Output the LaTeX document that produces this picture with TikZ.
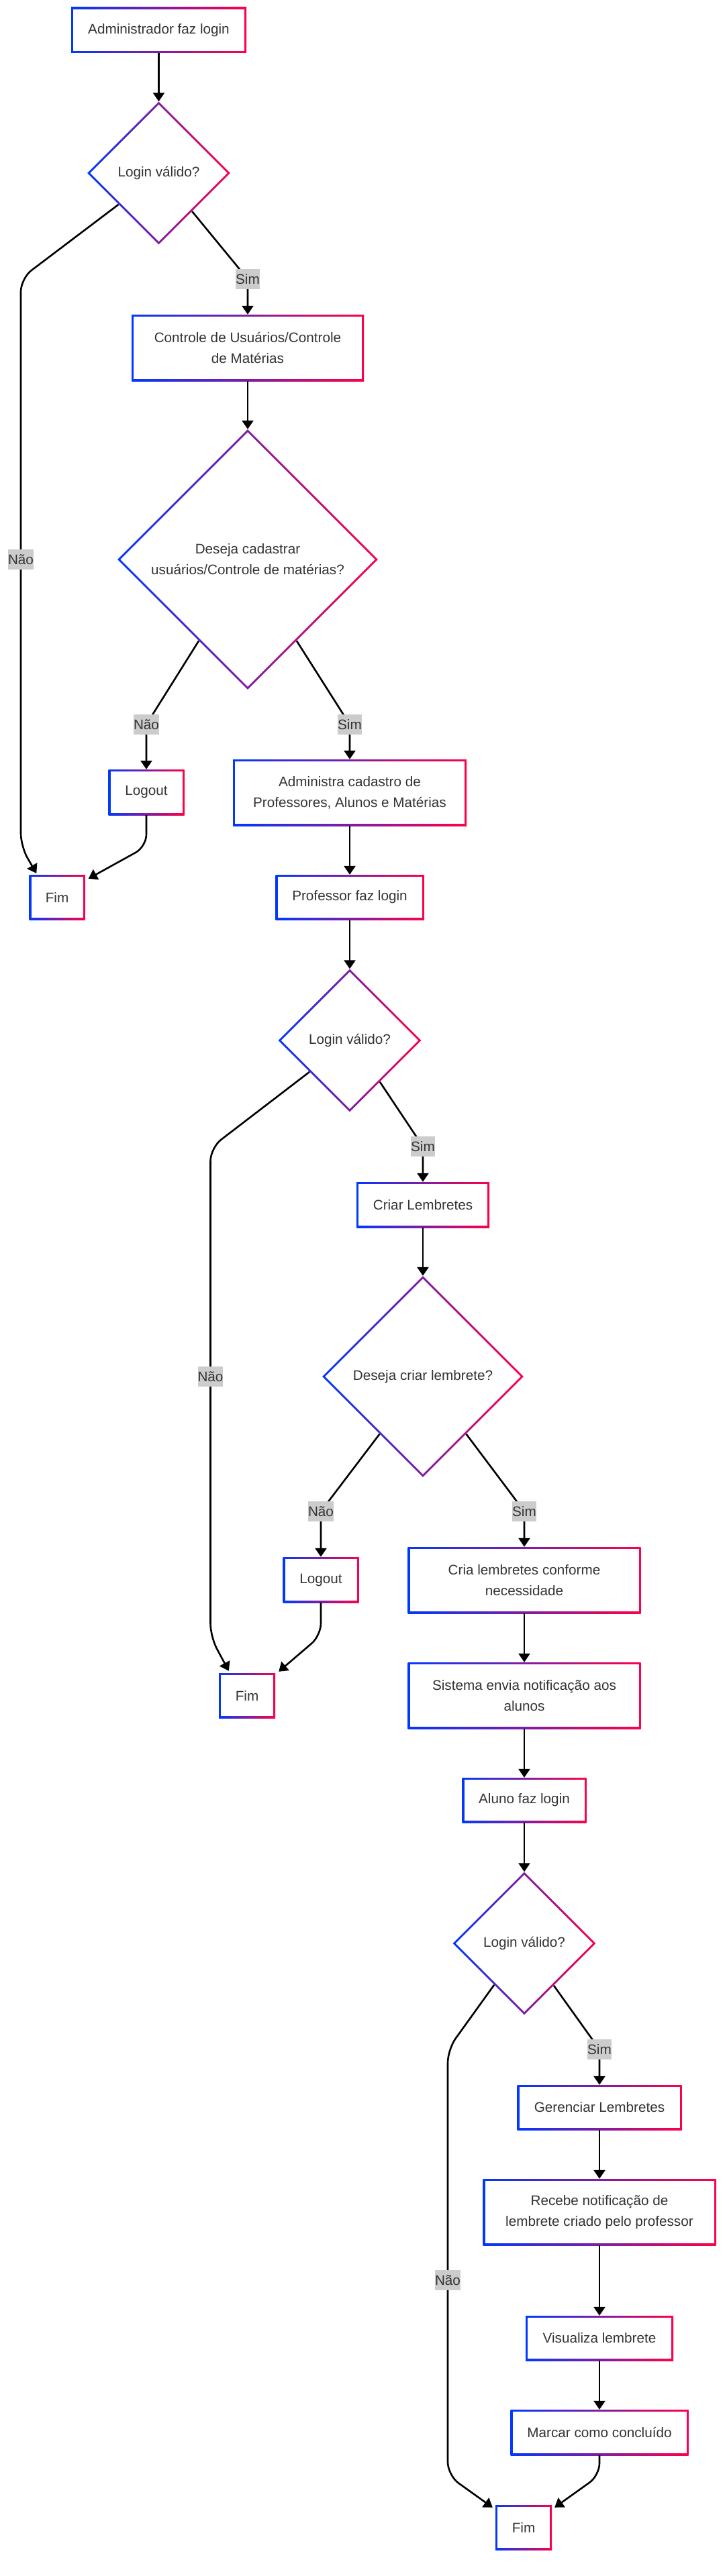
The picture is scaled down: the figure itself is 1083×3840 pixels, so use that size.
\documentclass[tikz,border=0pt]{standalone}
\usepackage{fontspec}
\setmainfont{Liberation Sans}
\usetikzlibrary{shapes.geometric,arrows.meta}
\definecolor{gblue}{RGB}{0,56,255}
\definecolor{gred}{RGB}{255,0,72}
\definecolor{txt}{HTML}{333333}
\definecolor{labgray}{HTML}{CCCCCC}
\newcommand{\mfs}{\fontsize{20.7pt}{31pt}\selectfont}
\tikzset{
  box/.style={rectangle, left color=gblue, right color=gred, text=txt, font=\mfs,
    inner sep=0pt, align=center,
    path picture={\fill[white] ([shift={(3pt,-3pt)}]path picture bounding box.north west)
      rectangle ([shift={(-3pt,3pt)}]path picture bounding box.south east);}},
  dec/.style={diamond, aspect=1, minimum width=#1, minimum height=#1,
    left color=gblue, right color=gred, text=txt, font=\mfs, inner sep=0pt, align=center,
    path picture={\fill[white] ([yshift=-4.3pt]path picture bounding box.north)
      -- ([xshift=-4.3pt]path picture bounding box.east)
      -- ([yshift=4.3pt]path picture bounding box.south)
      -- ([xshift=4.3pt]path picture bounding box.west) -- cycle;}},
  edge/.style={draw=black, line width=2.6pt, -{Triangle[length=13pt,width=17pt]}},
  lab/.style={fill=labgray, text=txt, font=\mfs, inner xsep=0pt, inner ysep=0pt,
    minimum height=30pt},
}
\begin{document}
\begin{tikzpicture}[x=1pt,y=-1pt]
\useasboundingbox (0,0) rectangle (1083,3840);
\fill[white] (0,0) rectangle (1083,3840);

% nodes
\node[box, minimum width=261pt, minimum height=68pt] (A) at (236.5,45) {Administrador faz login};
\node[dec=213pt] (D1) at (236.5,258) {Login válido?};
\node[box, minimum width=346pt, minimum height=99pt] (B) at (369,518.5) {Controle de Usuários/Controle\\de Matérias};
\node[dec=388pt] (D2) at (369,834) {Deseja cadastrar\\usuários/Controle de matérias?};
\node[box, minimum width=113pt, minimum height=68pt] (L1) at (218,1181) {Logout};
\node[box, minimum width=83pt, minimum height=67pt] (F1) at (85,1337.5) {Fim};
\node[box, minimum width=348pt, minimum height=99pt] (C) at (521,1181.5) {Administra cadastro de\\Professores, Alunos e Matérias};
\node[box, minimum width=221pt, minimum height=67pt] (P) at (521,1337.5) {Professor faz login};
\node[dec=213pt] (D3) at (521,1551) {Login válido?};
\node[box, minimum width=198pt, minimum height=68pt] (CL) at (630,1796) {Criar Lembretes};
\node[dec=300pt] (D4) at (630,2052) {Deseja criar lembrete?};
\node[box, minimum width=113pt, minimum height=68pt] (L2) at (478,2355) {Logout};
\node[box, minimum width=347pt, minimum height=99pt] (CR) at (781,2355.5) {Cria lembretes conforme\\necessidade};
\node[box, minimum width=84pt, minimum height=67pt] (F2) at (368,2527.5) {Fim};
\node[box, minimum width=347pt, minimum height=99pt] (S) at (781,2527.5) {Sistema envia notificação aos\\alunos};
\node[box, minimum width=185pt, minimum height=67pt] (AL) at (781,2683.5) {Aluno faz login};
\node[dec=213pt] (D5) at (781,2897) {Login válido?};
\node[box, minimum width=245pt, minimum height=67pt] (G) at (893,3141.5) {Gerenciar Lembretes};
\node[box, minimum width=347pt, minimum height=99pt] (R) at (893,3297.5) {Recebe notificação de\\lembrete criado pelo professor};
\node[box, minimum width=220pt, minimum height=67pt] (V) at (893,3485.5) {Visualiza lembrete};
\node[box, minimum width=265pt, minimum height=68pt] (M) at (893,3626) {Marcar como concluído};
\node[box, minimum width=84pt, minimum height=67pt] (F3) at (780,3767.5) {Fim};

% routing points
\coordinate (s1) at (369,416);
\coordinate (n1) at (31,834);
\coordinate (c1a) at (31,415);
\coordinate (c1b) at (31,1262);
\coordinate (n2) at (218,1080);
\coordinate (s2) at (521,1080);
\coordinate (l1c) at (218,1262);
\coordinate (s3) at (630,1709);
\coordinate (n3) at (313.5,2052);
\coordinate (c3a) at (313.5,1711);
\coordinate (c3b) at (313.5,2440);
\coordinate (n4) at (478,2253);
\coordinate (s4) at (781,2253);
\coordinate (l2c) at (478,2438);
\coordinate (s5) at (893,3055);
\coordinate (n5) at (667,3399);
\coordinate (c5a) at (667,3055);
\coordinate (c5b) at (667,3690);
\coordinate (m3c) at (893,3690);

% edges
\draw[edge] (A) -- (D1);
\draw[edge, rounded corners=8pt] (D1.-49.4) -- (s1) -- (B.north);
\draw[edge, rounded corners=20pt] (D1.218.4) -- (c1a) -- (c1b) -- ([xshift=11pt,yshift=2pt]F1.north west);
\draw[edge] (B) -- (D2);
\draw[edge, rounded corners=8pt] (D2.239) -- (n2) -- (L1.north);
\draw[edge, rounded corners=8pt] (D2.-59) -- (s2) -- (C.north);
\draw[edge, rounded corners=18pt] (L1.south) -- (l1c) -- ([xshift=5pt,yshift=-6pt]F1.north east);
\draw[edge] (C) -- (P);
\draw[edge] (P) -- (D3);
\draw[edge, rounded corners=8pt] (D3.-54.5) -- (s3) -- (CL.north);
\draw[edge, rounded corners=20pt] (D3.218) -- (c3a) -- (c3b) -- ([xshift=15pt,yshift=3pt]F2.north west);
\draw[edge] (CL) -- (D4);
\draw[edge, rounded corners=8pt] (D4.233.7) -- (n4) -- (L2.north);
\draw[edge, rounded corners=8pt] (D4.-53.2) -- (s4) -- (CR.north);
\draw[edge, rounded corners=18pt] (L2.south) -- (l2c) -- ([xshift=5pt,yshift=2pt]F2.north east);
\draw[edge] (CR) -- (S);
\draw[edge] (S) -- (AL);
\draw[edge] (AL) -- (D5);
\draw[edge, rounded corners=8pt] (D5.-55) -- (s5) -- (G.north);
\draw[edge, rounded corners=20pt] (D5.234.5) -- (c5a) -- (c5b) -- ([xshift=-4pt,yshift=-4pt]F3.north west);
\draw[edge] (G) -- (R);
\draw[edge] (R) -- (V);
\draw[edge] (V) -- (M);
\draw[edge, rounded corners=18pt] (M.south) -- (m3c) -- ([xshift=4pt,yshift=-4pt]F3.north east);

% edge labels
\node[lab] (ls1) at (s1) {Sim};
\node[lab] (ln1) at (n1) {Não};
\node[lab] (ln2) at (n2) {Não};
\node[lab] (ls2) at (s2) {Sim};
\node[lab] (ls3) at (s3) {Sim};
\node[lab] (ln3) at (n3) {Não};
\node[lab] (ln4) at (n4) {Não};
\node[lab] (ls4) at (s4) {Sim};
\node[lab] (ls5) at (s5) {Sim};
\node[lab] (ln5) at (n5) {Não};
\end{tikzpicture}
\end{document}
